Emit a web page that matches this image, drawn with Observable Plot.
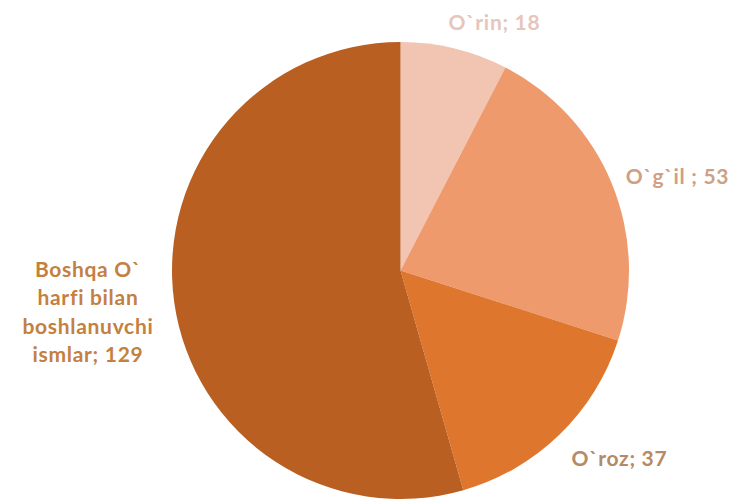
<!DOCTYPE html>
<html>
<head>
<meta charset="utf-8">
<script src="https://cdn.jsdelivr.net/npm/d3@7"></script>
<script src="https://cdn.jsdelivr.net/npm/@observablehq/plot@0.6"></script>
<style>
  html, body { margin: 0; padding: 0; background: #fff; }
  #chart { width: 730px; height: 499px; }
</style>
</head>
<body>
<div id="chart"></div>
<script>
// ---- data ----
const categories = ["O`rin", "O`g`il", "O`roz", "Boshqa O` harfi bilan boshlanuvchi ismlar"];
const values = [18, 53, 37, 129];
const labelTexts = ["O`rin; 18", "O`g`il ; 53", "O`roz; 37", "Boshqa O`\nharfi bilan\nboshlanuvchi\nismlar; 129"];

// ---- styles / layout ----
const sliceColors = ["#f2c4b2", "#ee9a6d", "#df762e", "#b95f22"];
const labelColors = ["#e6c6bc", "#cf9f86", "#b58a66", "#c4803f"];
// label anchor in unit-circle coordinates (layout, not data)
const labelAnchor = [[0.409, 1.095], [1.21, 0.42], [0.956, -0.815], [-1.37, -0.172]];

const pie = d3.pie().sort(null).value(d => d.value);
const table = categories.map((c, i) => ({category: c, value: values[i], label: labelTexts[i], color: sliceColors[i], lcolor: labelColors[i], ax: labelAnchor[i][0], ay: labelAnchor[i][1]}));
const arcs = pie(table);

const sliceMark = (index, scales, values_, dimensions, context) => {
  const cx = scales.x(0), cy = scales.y(0);
  const r = scales.x(1) - scales.x(0);
  const arc = d3.arc().innerRadius(0).outerRadius(r);
  const g = d3.create("svg:g").attr("transform", `translate(${cx},${cy})`);
  g.selectAll("path").data(arcs).join("path")
    .attr("d", arc)
    .attr("fill", d => d.data.color)
    .attr("stroke", "none");
  return g.node();
};

const plot = Plot.plot({
  width: 730,
  height: 499,
  marginLeft: 172,
  marginRight: 101,
  marginTop: 42,
  marginBottom: 0,
  x: {domain: [-1, 1], axis: null},
  y: {domain: [-1, 1], axis: null},
  style: {background: "#fff", fontFamily: "Lato, sans-serif", letterSpacing: "0.7px"},
  marks: [
    sliceMark,
    Plot.text(table, {
      x: "ax", y: "ay", text: "label",
      fill: d => d.lcolor,
      fontSize: 21,
      lineHeight: 1.36,
      fontWeight: "bold",
      textAnchor: "middle"
    })
  ]
});
document.getElementById("chart").appendChild(plot);
</script>
</body>
</html>
